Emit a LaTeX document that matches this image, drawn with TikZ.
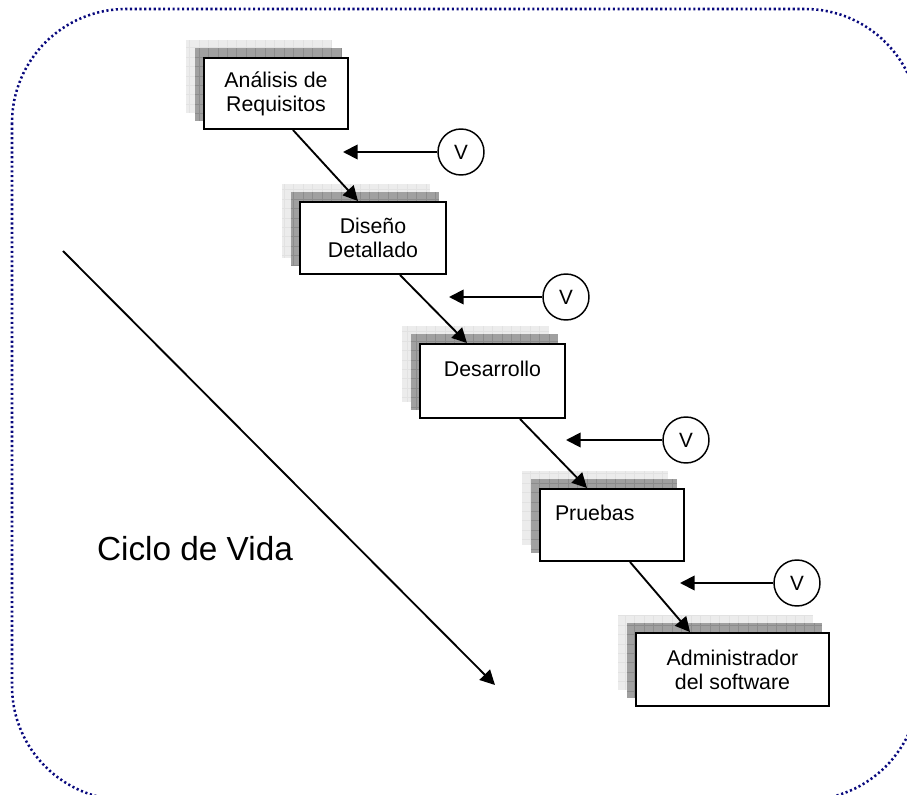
\documentclass[tikz,border=0pt]{standalone}
\usepackage{fontspec}
\setmainfont{Liberation Sans}
\usetikzlibrary{arrows.meta,backgrounds}

\definecolor{frameblue}{RGB}{8,8,125}
\definecolor{shadedark}{RGB}{160,160,160}
\definecolor{shadedarkline}{RGB}{140,140,140}
\definecolor{shadelight}{RGB}{236,236,236}
\definecolor{shadelightline}{RGB}{226,226,226}

\tikzset{
  stagebox/.style={draw=black, line width=1.5pt, fill=white, align=center,
    inner sep=2pt, font=\fontsize{16pt}{18pt}\selectfont},
  vcirc/.style={circle, draw=black, line width=1.1pt, fill=white,
    minimum size=34.5pt, inner sep=0pt, font=\fontsize{15.5pt}{18pt}\selectfont},
  flow/.style={line width=1.4pt, -{Triangle[length=11pt,width=11pt]}},
  outerframe/.style={draw=frameblue, line width=1.9pt,
    dash pattern=on 1.6pt off 1.95pt, rounded corners=85.5pt},
}

% two stacked grey sheets behind a stage box
\newcommand\stackshadow[1]{%
  \coordinate (#1-la) at ([shift={(-17,-17)}]#1.north west);
  \coordinate (#1-lb) at ([shift={(-17,-17)}]#1.south east);
  \coordinate (#1-da) at ([shift={(-8,-9)}]#1.north west);
  \coordinate (#1-db) at ([shift={(-8,-9)}]#1.south east);
  \fill[shadelight] (#1-la) rectangle (#1-lb);
  \draw[shadelightline, line width=0.3pt, step=7.1pt] (#1-la) grid (#1-lb);
  \fill[shadedark] (#1-da) rectangle (#1-db);
  \draw[shadedarkline, line width=0.3pt, step=7.1pt] (#1-da) grid (#1-db);
}

\begin{document}
\begin{tikzpicture}[x=0.75pt, y=-0.75pt]
  \useasboundingbox (0,0) rectangle (907,795);

  % stages
  \node[stagebox, minimum width=108pt, minimum height=53.25pt] (b1) at (276,93.5)
    {Análisis de\\Requisitos};
  \node[stagebox, minimum width=109.5pt, minimum height=54pt] (b2) at (373,238)
    {Diseño\\Detallado};
  \node[stagebox, minimum width=108.75pt, minimum height=55.5pt] (b3) at (492.5,381)
    {Desarrollo\\~};
  \node[stagebox, minimum width=108pt, minimum height=54pt, align=left,
    text width=85.5pt] (b4) at (612,525) {Pruebas\\~};
  \node[stagebox, minimum width=144.75pt, minimum height=54.75pt] (b5) at (732.5,669.5)
    {Administrador\\del software};

  \begin{scope}[on background layer]
    \draw[outerframe] (12,9) rectangle (919,800);
    \stackshadow{b1}
    \stackshadow{b2}
    \stackshadow{b3}
    \stackshadow{b4}
    \stackshadow{b5}
  \end{scope}

  % stage to stage
  \draw[flow] ([shift={(17,0)}]b1.south) -- ([shift={(-15,0)}]b2.north);
  \draw[flow] ([shift={(27,0)}]b2.south) -- ([shift={(-25.5,0)}]b3.north);
  \draw[flow] ([shift={(27.5,0)}]b3.south) -- ([shift={(-25,0)}]b4.north);
  \draw[flow] ([shift={(18,0)}]b4.south) -- ([shift={(-42.5,0)}]b5.north);

  % verification points
  \node[vcirc] (v1) at (461,152) {V};
  \node[vcirc] (v2) at (566,297) {V};
  \node[vcirc] (v3) at (686,440) {V};
  \node[vcirc] (v4) at (797,583) {V};
  \coordinate (t1) at (343,152);
  \coordinate (t2) at (449,297);
  \coordinate (t3) at (566,440);
  \coordinate (t4) at (680,583);
  \draw[flow] (v1) -- (t1);
  \draw[flow] (v2) -- (t2);
  \draw[flow] (v3) -- (t3);
  \draw[flow] (v4) -- (t4);

  % life cycle direction
  \coordinate (c1) at (63,251);
  \coordinate (c2) at (495,685);
  \draw[flow] (c1) -- (c2);
  \node[font=\fontsize{25pt}{30pt}\selectfont] (cv) at (195,549) {Ciclo de Vida};
\end{tikzpicture}
\end{document}
